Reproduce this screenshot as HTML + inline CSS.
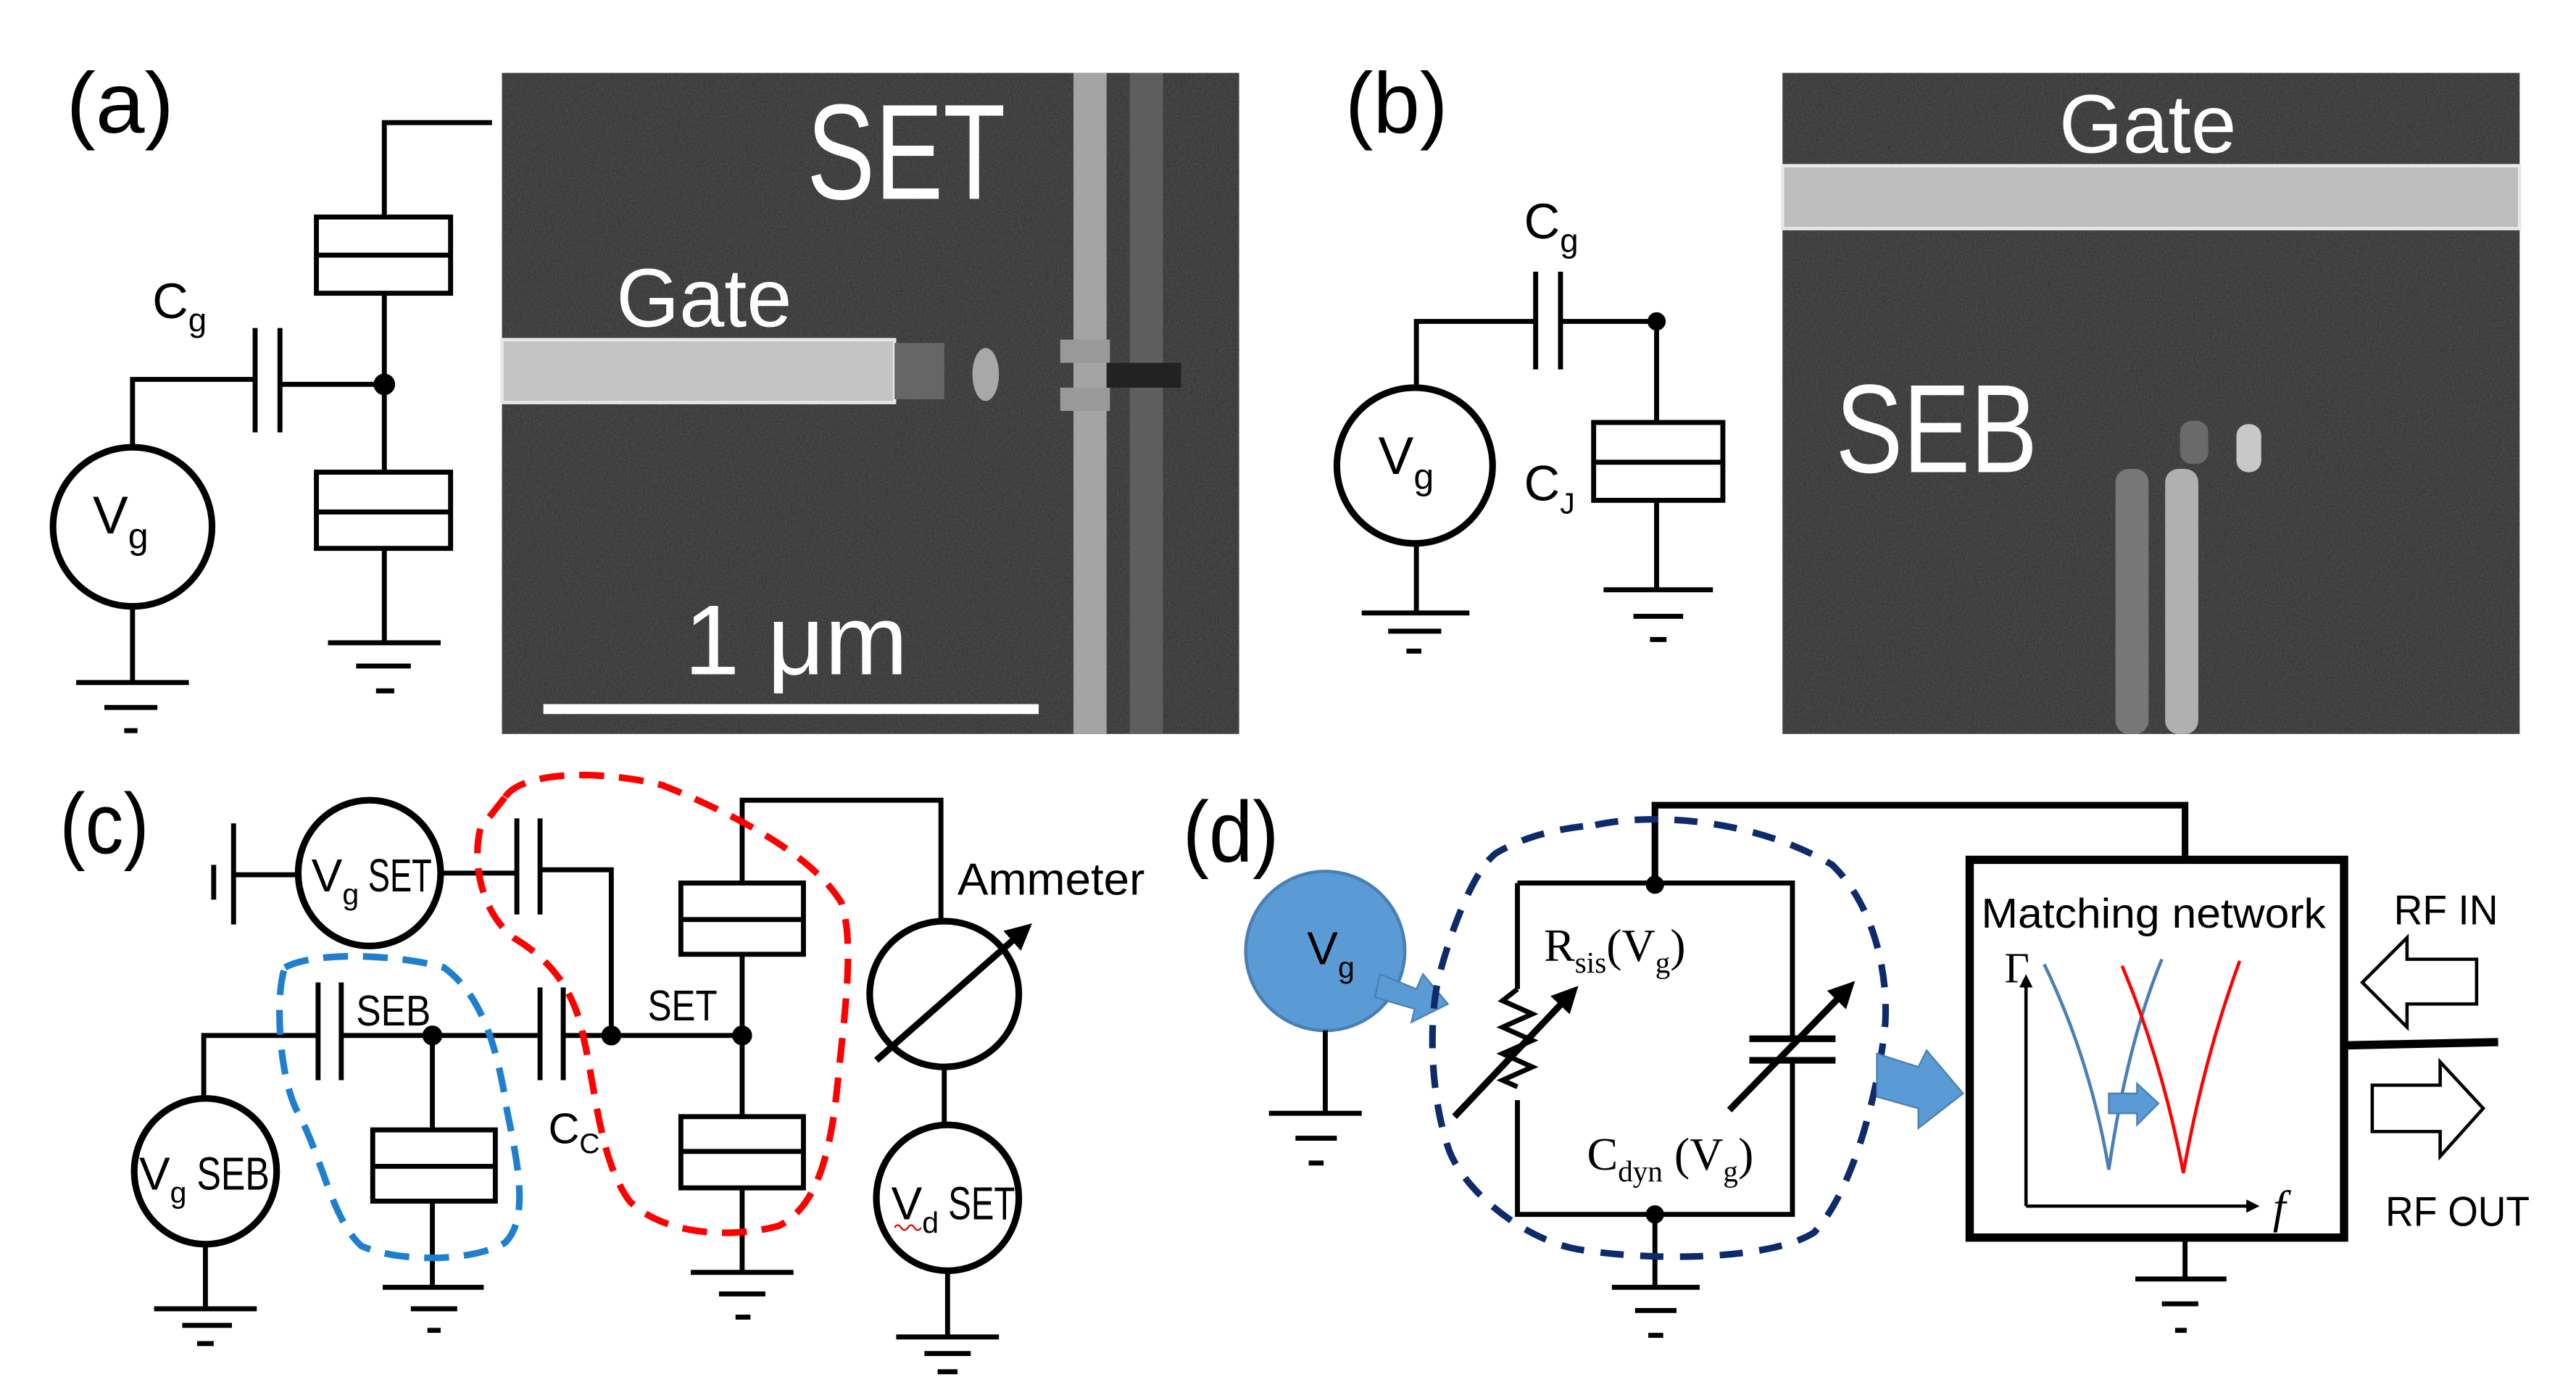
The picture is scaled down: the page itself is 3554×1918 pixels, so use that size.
<!DOCTYPE html>
<html><head><meta charset="utf-8"><style>
html,body{margin:0;padding:0;background:#fff;}
svg{display:block;}
text{font-family:"Liberation Sans","DejaVu Sans",sans-serif;}
.s{font-family:"Liberation Serif",serif;}
</style></head><body>
<svg width="3554" height="1918" viewBox="0 0 1555 839" preserveAspectRatio="none" xmlns="http://www.w3.org/2000/svg">
<defs>
<filter id="n" x="0" y="0" width="100%" height="100%">
<feTurbulence type="fractalNoise" baseFrequency="0.9" numOctaves="1" seed="3" result="t"/>
<feColorMatrix type="matrix" values="0 0 0 0 0.22  0 0 0 0 0.22  0 0 0 0 0.22  0.35 0 0 0 0" in="t" result="c"/>
<feComposite in="c" in2="SourceGraphic" operator="in"/>
</filter>
<marker id="ah" markerWidth="8" markerHeight="8" refX="6" refY="4" orient="auto" markerUnits="userSpaceOnUse"><path d="M0,0 L8,4 L0,8 z" fill="#000"/></marker>
<marker id="ah2" markerWidth="16" markerHeight="16" refX="12" refY="8" orient="auto" markerUnits="userSpaceOnUse"><path d="M0,0 L16,8 L0,16 z" fill="#000"/></marker>
</defs>
<g fill="none" stroke="#000" stroke-width="3">
<!-- ========== (a) ========== -->
<text x="40" y="80" font-size="52" textLength="65" lengthAdjust="spacingAndGlyphs" fill="#000" stroke="none">(a)</text>
<rect x="303" y="44" width="445" height="399" fill="#333" stroke="none"/>
<rect x="303" y="44" width="445" height="399" fill="#fff" stroke="none" filter="url(#n)"/>
<rect x="303" y="205" width="237" height="38" fill="#c4c4c4" stroke="#e8e8e8" stroke-width="2"/>
<rect x="540" y="207" width="30" height="34" fill="#666" stroke="none"/>
<ellipse cx="595" cy="226" rx="8" ry="16" fill="#a8a8a8" stroke="none"/>
<rect x="648" y="44" width="20" height="399" fill="#a4a4a4" stroke="none"/>
<rect x="682" y="44" width="20" height="399" fill="#5e5e5e" stroke="none"/>
<path d="M640,205 h30 v14 h-30 z M640,234 h30 v14 h-30 z" fill="#999" stroke="none"/>
<rect x="668" y="219" width="45" height="15" fill="#222" stroke="none"/>
<text x="487" y="120" font-size="82" textLength="120" lengthAdjust="spacingAndGlyphs" fill="#fff" stroke="none">SET</text>
<text x="372" y="197" font-size="50" textLength="106" lengthAdjust="spacingAndGlyphs" fill="#fff" stroke="none">Gate</text>
<text x="413" y="407" font-size="60" textLength="135" lengthAdjust="spacingAndGlyphs" fill="#fff" stroke="none">1 μm</text>
<rect x="328" y="425" width="299" height="6" fill="#fff" stroke="none"/>
<path d="M297,74 H232 V131 M232,177 V285 M232,331 V388"/>
<rect x="191" y="131" width="81" height="46" stroke-width="3"/><path d="M191,154 H272"/>
<rect x="191" y="285" width="81" height="46"/><path d="M191,309 H272"/>
<path d="M198,388 H266 M215,402 H248 M227,417 H238"/>
<circle cx="232" cy="232" r="5" fill="#000"/>
<path d="M80,270 V229 H154 M154,198 V261 M169,198 V261 M169,232 H232"/>
<circle cx="80" cy="318" r="48" stroke-width="4"/>
<path d="M80,366 V412 M46,412 H114 M63,427 H95 M75,441 H83"/>
<text x="92" y="192" font-size="30" fill="#000" stroke="none">C<tspan font-size="20" dy="8">g</tspan></text>
<text x="56" y="322" font-size="32" fill="#000" stroke="none">V<tspan font-size="22" dy="9">g</tspan></text>

<!-- ========== (b) ========== -->
<text x="812" y="80" font-size="52" textLength="62" lengthAdjust="spacingAndGlyphs" fill="#000" stroke="none">(b)</text>
<rect x="1076" y="44" width="445" height="399" fill="#333" stroke="none"/>
<rect x="1076" y="44" width="445" height="399" fill="#fff" stroke="none" filter="url(#n)"/>
<rect x="1076" y="100" width="445" height="38" fill="#bdbdbd" stroke="#e8e8e8" stroke-width="2"/>
<text x="1243" y="92" font-size="50" textLength="107" lengthAdjust="spacingAndGlyphs" fill="#fff" stroke="none">Gate</text>
<text x="1108" y="285" font-size="76" textLength="122" lengthAdjust="spacingAndGlyphs" fill="#fff" stroke="none">SEB</text>
<rect x="1277" y="283" width="20" height="160" rx="8" fill="#777" stroke="none"/>
<rect x="1307" y="283" width="20" height="160" rx="8" fill="#b0b0b0" stroke="none"/>
<rect x="1316" y="254" width="17" height="26" rx="7" fill="#6a6a6a" stroke="none"/>
<rect x="1350" y="256" width="15" height="29" rx="7" fill="#c8c8c8" stroke="none"/>
<circle cx="854" cy="281" r="47" stroke-width="4"/>
<path d="M855,234 V194 H927 M927,164 V223 M942,164 V223 M942,194 H1000 V255 M1000,302 V356"/>
<circle cx="1000" cy="194" r="4" fill="#000"/>
<rect x="962" y="255" width="78" height="47"/><path d="M962,279 H1040"/>
<path d="M968,356 H1034 M986,372 H1016 M996,386 H1006"/>
<path d="M855,328 V370 M822,370 H887 M838,381 H870 M849,393 H858"/>
<text x="920" y="144" font-size="30" fill="#000" stroke="none">C<tspan font-size="20" dy="8">g</tspan></text>
<text x="920" y="302" font-size="30" fill="#000" stroke="none">C<tspan font-size="18" dy="8">J</tspan></text>
<text x="832" y="286" font-size="32" fill="#000" stroke="none">V<tspan font-size="22" dy="9">g</tspan></text>

<!-- ========== (c) ========== -->
<text x="36" y="515" font-size="52" textLength="54" lengthAdjust="spacingAndGlyphs" fill="#000" stroke="none">(c)</text>
<path d="M129,522 V543 M141,497 V558 M141,528 H180"/>
<ellipse cx="223" cy="527" rx="43" ry="44" stroke-width="4"/>
<path d="M267,527 H312 M312,494 V552 M326,494 V552 M326,525 H369 V625"/>
<path d="M448,533 V483 H568 V556"/>
<rect x="411" y="533" width="74" height="43"/><path d="M411,555 H485"/>
<path d="M448,576 V674"/>
<rect x="411" y="674" width="74" height="43"/><path d="M411,695 H485"/>
<path d="M448,717 V768 M417,768 H479 M434,781 H462 M444,795 H453"/>
<path d="M123,663 V625 H192 M192,593 V652 M206,593 V652 M206,625 H326 M326,596 V652 M340,596 V652 M340,625 H448"/>
<circle cx="261" cy="625" r="4.5" fill="#000"/><circle cx="369" cy="625" r="4.5" fill="#000"/><circle cx="448" cy="625" r="4.5" fill="#000"/>
<path d="M261,625 V682"/>
<rect x="225" y="682" width="74" height="43"/><path d="M225,704 H299"/>
<path d="M261,725 V777 M231,777 H292 M248,790 H276 M258,803 H266"/>
<ellipse cx="124" cy="707" rx="43" ry="44" stroke-width="4"/>
<path d="M124,751 V790 M93,790 H155 M110,800 H140 M119,811 H129"/>
<ellipse cx="570" cy="600" rx="45" ry="44" stroke-width="4"/>
<path d="M529,640 L620,560" stroke-width="4" marker-end="url(#ah2)"/>
<path d="M570,644 V679"/>
<ellipse cx="572" cy="723" rx="43" ry="44" stroke-width="4"/>
<path d="M572,767 V807 M541,807 H603 M558,817 H586 M566,828 H578"/>
<text x="188" y="538" font-size="28" fill="#000" stroke="none">V<tspan font-size="18" dy="8">g</tspan><tspan dy="-8" textLength="44" lengthAdjust="spacingAndGlyphs"> SET</tspan></text>
<text x="84" y="718" font-size="28" fill="#000" stroke="none">V<tspan font-size="18" dy="8">g</tspan><tspan dy="-8" textLength="50" lengthAdjust="spacingAndGlyphs"> SEB</tspan></text>
<text x="538" y="736" font-size="28" fill="#000" stroke="none">V<tspan font-size="18" dy="8">d</tspan><tspan dy="-8" textLength="46" lengthAdjust="spacingAndGlyphs"> SET</tspan></text>
<path d="M540,741 q2,-3 4,0 t4,0 t4,0 t4,0" stroke="#d00" stroke-width="1"/>
<text x="215" y="619" font-size="26" textLength="45" lengthAdjust="spacingAndGlyphs" fill="#000" stroke="none">SEB</text>
<text x="391" y="616" font-size="26" textLength="42" lengthAdjust="spacingAndGlyphs" fill="#000" stroke="none">SET</text>
<text x="331" y="690" font-size="26" fill="#000" stroke="none">C<tspan font-size="17" dy="6">C</tspan></text>
<text x="578" y="540" font-size="27" textLength="113" lengthAdjust="spacingAndGlyphs" fill="#000" stroke="none">Ammeter</text>
<path d="M305,481 C315,466 360,464 400,474 C440,490 490,515 508,545 C516,570 510,610 505,660 C500,705 490,730 470,740 C440,748 400,745 380,725 C362,700 360,660 352,625 C346,595 330,578 310,566 C290,550 285,520 290,500 Z" stroke="#f00" stroke-width="4" stroke-dasharray="15,9"/>
<path d="M172,584 C190,574 240,576 268,584 C290,600 300,630 306,670 C312,700 320,735 305,750 C285,762 240,762 218,752 C200,735 195,700 180,672 C168,650 166,600 172,584 Z" stroke="#1f7fcf" stroke-width="4" stroke-dasharray="15,9"/>

<!-- ========== (d) ========== -->
<text x="714" y="520" font-size="52" textLength="58" lengthAdjust="spacingAndGlyphs" fill="#000" stroke="none">(d)</text>
<circle cx="800" cy="574" r="48" fill="#5b9bd5" stroke="#4a7fb5" stroke-width="2"/>
<text x="789" y="582" font-size="28" fill="#000" stroke="none">V<tspan font-size="18" dy="8">g</tspan></text>
<path d="M800,622 V672 M766,672 H822 M782,687 H807 M790,702 H799"/>
<polygon points="833,588 855,597 859,588 874,606 852,617 854,609 830,602" fill="#5b9bd5" stroke="#4a7fb5" stroke-width="1"/>
<path d="M999,534 V486 H1319 V519" stroke-width="4"/>
<path d="M916,533 H1082 V627 M1082,640 V733 H916 V664 M916,597 V533" stroke-width="3"/>
<path d="M916,597 l-9,7 l18,8 l-18,8 l18,8 l-18,8 l18,8 l-18,8 l9,4" stroke-width="3"/>
<path d="M1056,627 H1108 M1056,640 H1108" stroke-width="4"/>
<path d="M878,674 L950,598" stroke-width="4" marker-end="url(#ah2)"/>
<path d="M1044,670 L1117,595" stroke-width="4" marker-end="url(#ah2)"/>
<circle cx="999" cy="534" r="4" fill="#000"/><circle cx="999" cy="733" r="4" fill="#000"/>
<path d="M999,733 V777 M973,777 H1026 M987,791 H1012 M995,806 H1004"/>
<text class="s" x="932" y="580" font-size="28" fill="#000" stroke="none">R<tspan font-size="18" dy="7">sis</tspan><tspan dy="-7">(V</tspan><tspan font-size="18" dy="7">g</tspan><tspan dy="-7">)</tspan></text>
<text class="s" x="958" y="706" font-size="28" fill="#000" stroke="none">C<tspan font-size="18" dy="7">dyn</tspan><tspan dy="-7"> (V</tspan><tspan font-size="18" dy="7">g</tspan><tspan dy="-7">)</tspan></text>
<path d="M963,498 C1000,490 1060,495 1106,522 C1130,545 1140,585 1138,618 C1134,660 1118,720 1095,744 C1070,760 1000,762 952,754 C920,748 885,720 875,695 C864,665 862,620 868,592 C876,560 890,525 903,515 C920,505 940,500 963,498 Z" stroke="#0d2a6b" stroke-width="4" stroke-dasharray="14,10"/>
<polygon points="1133,636 1158,644 1163,634 1185,660 1158,681 1158,669 1133,662" fill="#5b9bd5" stroke="#4a7fb5" stroke-width="1"/>
<rect x="1189" y="519" width="226" height="228" stroke-width="5"/>
<text x="1196" y="560" font-size="25" textLength="208" lengthAdjust="spacingAndGlyphs" fill="#000" stroke="none">Matching network</text>
<path d="M1223,728 V590" stroke-width="2" marker-end="url(#ah)"/>
<path d="M1223,728 H1362" stroke-width="2" marker-end="url(#ah)"/>
<text class="s" x="1210" y="593" font-size="26" fill="#000" stroke="none">Γ</text>
<text class="s" x="1372" y="738" font-size="28" font-style="italic" fill="#000" stroke="none">f</text>
<path d="M1234,582 Q1262,640 1273,706 Q1284,630 1305,579" stroke="#4a7fb5" stroke-width="2"/>
<path d="M1281,583 Q1305,640 1318,708 Q1330,640 1352,580" stroke="#f00" stroke-width="2"/>
<polygon points="1273,660 1290,660 1290,654 1303,666 1290,679 1290,672 1273,672" fill="#5b9bd5" stroke="#4a7fb5" stroke-width="1"/>
<path d="M1415,631 L1508,629" stroke-width="5"/>
<path d="M1319,747 V772 M1289,772 H1344 M1305,787 H1327 M1313,803 H1320"/>
<text x="1445" y="558" font-size="25" textLength="63" lengthAdjust="spacingAndGlyphs" fill="#000" stroke="none">RF IN</text>
<polygon points="1426,593 1453,566 1453,579 1495,579 1495,606 1453,606 1453,620" fill="#fff" stroke-width="2"/>
<polygon points="1432,655 1473,655 1473,641 1499,669 1473,698 1473,683 1432,683" fill="#fff" stroke-width="2"/>
<text x="1440" y="740" font-size="25" textLength="87" lengthAdjust="spacingAndGlyphs" fill="#000" stroke="none">RF OUT</text>
</g>
</svg>
</body></html>
